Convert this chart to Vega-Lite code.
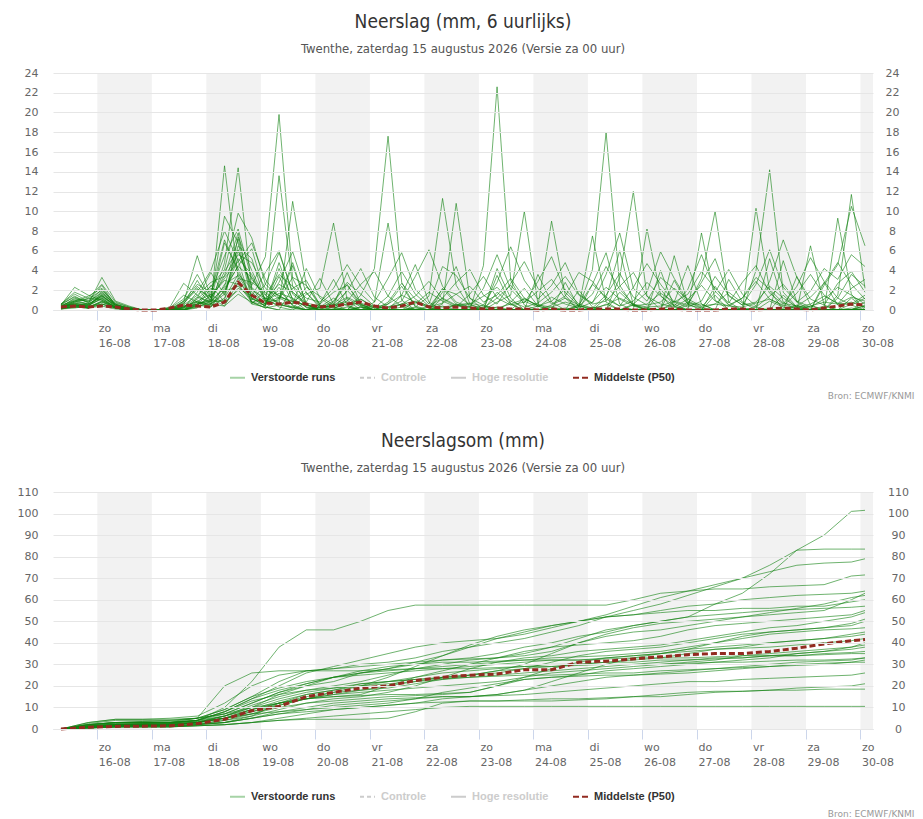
{
  "$schema": "https://vega.github.io/schema/vega-lite/v6.json",
  "background": "white",
  "padding": {"left": 17, "top": 13, "right": 5, "bottom": 0},
  "spacing": 32,
  "datasets": {
    "bands": [
      {"a": 24, "b": 48}, {"a": 72, "b": 96}, {"a": 120, "b": 144}, {"a": 168, "b": 192},
      {"a": 216, "b": 240}, {"a": 264, "b": 288}, {"a": 312, "b": 336}, {"a": 360, "b": 365.52}
    ]
  },
  "resolve": {"scale": {"color": "independent", "strokeDash": "independent"}, "legend": {"color": "independent", "strokeDash": "independent"}},
  "config": {
    "view": {"stroke": null},
    "axis": {"labelFont": "DejaVu Sans", "labelFontSize": 11, "labelColor": "#666666"},
    "title": {
      "font": "Liberation Sans Narrow, DejaVu Sans Condensed, sans-serif",
      "fontSize": 19,
      "fontWeight": "normal",
      "color": "#333333",
      "subtitleFont": "Liberation Sans Narrow, DejaVu Sans Condensed, sans-serif",
      "subtitleFontSize": 13,
      "subtitleColor": "#555555",
      "subtitlePadding": 11,
      "offset": 11,
      "anchor": "middle"
    }
  },
  "vconcat": [
    {
      "width": 820,
      "height": 237,
      "title": {"text": "Neerslag (mm, 6 uurlijks)", "subtitle": "Twenthe, zaterdag 15 augustus 2026 (Versie za 00 uur)"},
      "layer": [
        {
          "data": {"name": "bands"},
          "mark": {"type": "rect", "color": "#f2f2f2"},
          "encoding": {
            "x": {
              "field": "a", "type": "quantitative",
              "scale": {"domain": [4.48, 365.52], "nice": false, "zero": false},
              "axis": {
                "values": [24, 48, 72, 96, 120, 144, 168, 192, 216, 240, 264, 288, 312, 336, 360],
                "labelExpr": "[['za','zo','ma','di','wo','do','vr'][round(datum.value/24)%7], (15+round(datum.value/24))+'-08']",
                "labelAlign": "left", "labelBaseline": "top", "labelPadding": 2, "labelOffset": 1,
                "labelLineHeight": 15, "labelOverlap": false, "labelFlush": false, "labelBound": false,
                "tickSize": 10, "tickColor": "#ccd6eb", "domainColor": "#ccd6eb", "grid": false,
                "title": "Bron: ECMWF/KNMI", "titleX": 861, "titleY": 85, "titleAlign": "right",
                "titleBaseline": "middle", "titleFontSize": 9, "titleColor": "#999999",
                "titleFontWeight": "normal", "titleFont": "DejaVu Sans"
              }
            },
            "x2": {"field": "b"}
          }
        },
        {
          "data": {
            "values": "r,h,v\n1,8,0.3\n1,14,1.2\n1,20,0.8\n1,26,2.1\n1,32,0.5\n1,38,0.2\n1,44,0\n1,50,0\n1,56,0\n1,62,0.6\n1,68,2.4\n1,74,1\n1,80,3.5\n1,86,7.8\n1,92,1.2\n1,98,0.4\n1,104,4.2\n1,110,1.1\n1,116,0.3\n1,122,0\n1,128,0.8\n1,134,2.6\n1,140,0.4\n1,146,0\n1,152,0\n1,158,0.3\n1,164,0\n1,170,0\n1,176,1.2\n1,182,0.5\n1,188,0\n1,194,0\n1,200,0\n1,206,0.8\n1,212,2.2\n1,218,0.4\n1,224,0\n1,230,0\n1,236,0.4\n1,242,0\n1,248,0\n1,254,1.8\n1,260,0.5\n1,266,0\n1,272,0\n1,278,3\n1,284,0.6\n1,290,0.6\n1,296,0\n1,302,0\n1,308,0\n1,314,0.3\n1,320,0\n1,326,1.5\n1,332,0.2\n1,338,0\n1,344,2.8\n1,350,0.5\n1,356,0.8\n1,362,0.3\n2,8,0.5\n2,14,2.3\n2,20,1.5\n2,26,1\n2,32,0.3\n2,38,0\n2,44,0\n2,50,0\n2,56,0.2\n2,62,1.5\n2,68,0.8\n2,74,0.3\n2,80,2\n2,86,4.5\n2,92,6.2\n2,98,1.5\n2,104,0.6\n2,110,0.2\n2,116,0\n2,122,0.3\n2,128,0\n2,134,0\n2,140,1.1\n2,146,0.2\n2,152,0\n2,158,0\n2,164,0.8\n2,170,0.2\n2,176,0\n2,182,0\n2,188,0\n2,194,4.5\n2,200,22.6\n2,206,3\n2,212,0.5\n2,218,0\n2,224,0\n2,230,0.2\n2,236,0\n2,242,0\n2,248,0.6\n2,254,0\n2,260,0\n2,266,0\n2,272,2.1\n2,278,0.4\n2,284,0\n2,290,0\n2,296,1.5\n2,302,0\n2,308,0\n2,314,0\n2,320,0.9\n2,326,0.3\n2,332,0\n2,338,0\n2,344,0\n2,350,0\n2,356,0.2\n2,362,0\n3,8,0.2\n3,14,0.8\n3,20,0.6\n3,26,3.3\n3,32,0.9\n3,38,0.4\n3,44,0\n3,50,0\n3,56,0\n3,62,0\n3,68,1.2\n3,74,3.8\n3,80,1.5\n3,86,6\n3,92,2.5\n3,98,5.4\n3,104,19.8\n3,110,3.2\n3,116,0.5\n3,122,0\n3,128,0\n3,134,0.3\n3,140,0\n3,146,0\n3,152,0\n3,158,0\n3,164,0\n3,170,0.4\n3,176,0\n3,182,0\n3,188,0\n3,194,0\n3,200,0.3\n3,206,0\n3,212,0\n3,218,0\n3,224,0.5\n3,230,1.2\n3,236,0\n3,242,0\n3,248,0\n3,254,0\n3,260,0\n3,266,0.2\n3,272,0\n3,278,0\n3,284,0\n3,290,0\n3,296,0\n3,302,3.1\n3,308,0.8\n3,314,0\n3,320,0\n3,326,0\n3,332,0\n3,338,0\n3,344,0.4\n3,350,0\n3,356,0\n3,362,0\n4,8,0.4\n4,14,0.5\n4,20,0.3\n4,26,1.8\n4,32,0.6\n4,38,0\n4,44,0\n4,50,0\n4,56,0\n4,62,0.8\n4,68,5.5\n4,74,1.2\n4,80,0.4\n4,86,2.8\n4,92,1.6\n4,98,0.3\n4,104,0\n4,110,2.2\n4,116,3\n4,122,0.5\n4,128,0.2\n4,134,0\n4,140,1.5\n4,146,4.2\n4,152,17.6\n4,158,2.8\n4,164,0.3\n4,170,0\n4,176,0\n4,182,0\n4,188,0\n4,194,0.5\n4,200,0\n4,206,0\n4,212,0\n4,218,0\n4,224,0\n4,230,0\n4,236,2\n4,242,0.3\n4,248,0\n4,254,0\n4,260,0\n4,266,0\n4,272,0\n4,278,0.6\n4,284,0\n4,290,0\n4,296,0\n4,302,0\n4,308,0.2\n4,314,0\n4,320,0\n4,326,0\n4,332,0.5\n4,338,0\n4,344,0\n4,350,0\n4,356,0\n4,362,0\n5,8,0.1\n5,14,0.3\n5,20,0.5\n5,26,1.2\n5,32,0.2\n5,38,0\n5,44,0\n5,50,0\n5,56,0\n5,62,0\n5,68,0.4\n5,74,2.2\n5,80,1.8\n5,86,5.2\n5,92,3.6\n5,98,0.8\n5,104,1\n5,110,4.5\n5,116,0.6\n5,122,0\n5,128,0\n5,134,1.2\n5,140,0.3\n5,146,0\n5,152,0\n5,158,0\n5,164,0\n5,170,0\n5,176,0\n5,182,0.5\n5,188,0.2\n5,194,0\n5,200,1.8\n5,206,0.6\n5,212,0\n5,218,0\n5,224,0\n5,230,0\n5,236,0.3\n5,242,4.1\n5,248,18\n5,254,2.5\n5,260,0.4\n5,266,0\n5,272,0\n5,278,0\n5,284,0.8\n5,290,0.2\n5,296,0\n5,302,0\n5,308,0\n5,314,0\n5,320,0\n5,326,0\n5,332,0\n5,338,0.4\n5,344,0\n5,350,0\n5,356,0\n5,362,0\n6,8,0.6\n6,14,1.6\n6,20,0.9\n6,26,2.5\n6,32,0.4\n6,38,0.1\n6,44,0\n6,50,0\n6,56,0.3\n6,62,2.7\n6,68,1.5\n6,74,0.6\n6,80,14.6\n6,86,3.2\n6,92,0.8\n6,98,0.5\n6,104,2.3\n6,110,0.4\n6,116,0\n6,122,0.6\n6,128,3.1\n6,134,0.5\n6,140,0\n6,146,0\n6,152,0\n6,158,0\n6,164,0\n6,170,0\n6,176,0\n6,182,0\n6,188,0\n6,194,0\n6,200,0\n6,206,0\n6,212,0\n6,218,3.6\n6,224,0.8\n6,230,0\n6,236,0\n6,242,0.2\n6,248,0\n6,254,0\n6,260,0.5\n6,266,0.2\n6,272,0\n6,278,0\n6,284,0\n6,290,0\n6,296,2.4\n6,302,0.5\n6,308,0\n6,314,0\n6,320,0\n6,326,0\n6,332,0\n6,338,0\n6,344,0\n6,350,0\n6,356,0\n6,362,0.4\n7,8,0.2\n7,14,0.4\n7,20,0.2\n7,26,0.9\n7,32,0.3\n7,38,0\n7,44,0\n7,50,0\n7,56,0\n7,62,0.3\n7,68,0.9\n7,74,0.5\n7,80,4.8\n7,86,14.4\n7,92,2\n7,98,1.2\n7,104,0.3\n7,110,0\n7,116,0\n7,122,0\n7,128,0\n7,134,0\n7,140,0\n7,146,0\n7,152,0.6\n7,158,2.4\n7,164,0.4\n7,170,0\n7,176,0\n7,182,0\n7,188,0\n7,194,0\n7,200,0\n7,206,0\n7,212,0\n7,218,0\n7,224,0\n7,230,0\n7,236,0\n7,242,0\n7,248,0\n7,254,3.3\n7,260,12\n7,266,1.4\n7,272,0\n7,278,0\n7,284,0\n7,290,0\n7,296,0\n7,302,0\n7,308,0\n7,314,0\n7,320,0\n7,326,0\n7,332,0\n7,338,0\n7,344,0\n7,350,0\n7,356,1.2\n7,362,0.2\n8,8,0.3\n8,14,0.9\n8,20,1.1\n8,26,2\n8,32,0.7\n8,38,0.3\n8,44,0\n8,50,0\n8,56,0\n8,62,0\n8,68,0.2\n8,74,1.6\n8,80,0.6\n8,86,2.2\n8,92,1.4\n8,98,3.8\n8,104,6\n8,110,1.6\n8,116,0.5\n8,122,0\n8,128,0\n8,134,0\n8,140,0\n8,146,0.5\n8,152,0\n8,158,0\n8,164,0.3\n8,170,1.4\n8,176,11.3\n8,182,2.5\n8,188,0.3\n8,194,0\n8,200,0\n8,206,0\n8,212,0\n8,218,0\n8,224,0\n8,230,0\n8,236,0\n8,242,0\n8,248,0\n8,254,0\n8,260,0\n8,266,0\n8,272,0\n8,278,0\n8,284,0\n8,290,0\n8,296,0\n8,302,0\n8,308,0\n8,314,4\n8,320,14.2\n8,326,1.8\n8,332,0.3\n8,338,0\n8,344,0\n8,350,0\n8,356,0\n8,362,0\n9,8,0.2\n9,14,0.3\n9,20,0.2\n9,26,0.6\n9,32,0.2\n9,38,0\n9,44,0\n9,50,0\n9,56,0\n9,62,0\n9,68,0.5\n9,74,0.3\n9,80,2.6\n9,86,3.5\n9,92,1.2\n9,98,0.4\n9,104,13.6\n9,110,2.4\n9,116,0.2\n9,122,0\n9,128,0\n9,134,0\n9,140,0.3\n9,146,0\n9,152,0\n9,158,0\n9,164,0\n9,170,0\n9,176,0.6\n9,182,10.8\n9,188,1.2\n9,194,0\n9,200,0\n9,206,0\n9,212,0\n9,218,0\n9,224,0.3\n9,230,0\n9,236,0\n9,242,0\n9,248,0\n9,254,0\n9,260,0\n9,266,0\n9,272,0\n9,278,0\n9,284,0\n9,290,0\n9,296,0\n9,302,0\n9,308,0\n9,314,0\n9,320,0\n9,326,0\n9,332,0.4\n9,338,0.2\n9,344,0\n9,350,1.5\n9,356,11.7\n9,362,2.2\n10,8,0.4\n10,14,1\n10,20,0.6\n10,26,1.4\n10,32,0.5\n10,38,0.2\n10,44,0\n10,50,0\n10,56,0\n10,62,0.6\n10,68,3\n10,74,0.8\n10,80,1\n10,86,7.4\n10,92,4\n10,98,1\n10,104,0.5\n10,110,11\n10,116,2.5\n10,122,0.4\n10,128,0\n10,134,0\n10,140,0\n10,146,0\n10,152,0\n10,158,0\n10,164,0\n10,170,0\n10,176,0\n10,182,0\n10,188,0\n10,194,0\n10,200,0\n10,206,0\n10,212,1.2\n10,218,0.4\n10,224,0\n10,230,0\n10,236,0\n10,242,0\n10,248,0\n10,254,0\n10,260,0\n10,266,0\n10,272,0\n10,278,0\n10,284,0.5\n10,290,3.2\n10,296,10\n10,302,0.8\n10,308,0\n10,314,10.3\n10,320,2\n10,326,0\n10,332,0\n10,338,0\n10,344,0\n10,350,0\n10,356,0\n10,362,0\n11,8,0.3\n11,14,0.6\n11,20,0.4\n11,26,1.5\n11,32,0.3\n11,38,0\n11,44,0\n11,50,0\n11,56,0\n11,62,0.2\n11,68,1.8\n11,74,4\n11,80,8\n11,86,5\n11,92,0.6\n11,98,2\n11,104,1.5\n11,110,0.6\n11,116,4.2\n11,122,1.2\n11,128,0.3\n11,134,0\n11,140,0\n11,146,0\n11,152,0\n11,158,0.6\n11,164,0\n11,170,0\n11,176,0\n11,182,0\n11,188,0\n11,194,0\n11,200,0.8\n11,206,1.5\n11,212,10\n11,218,0.6\n11,224,0\n11,230,0\n11,236,0\n11,242,0\n11,248,0\n11,254,0\n11,260,0\n11,266,0\n11,272,0\n11,278,0\n11,284,0\n11,290,0\n11,296,0\n11,302,0\n11,308,0\n11,314,0\n11,320,0\n11,326,0\n11,332,0\n11,338,0\n11,344,0\n11,350,0\n11,356,0.6\n11,362,1.5\n12,8,0.2\n12,14,0.5\n12,20,0.3\n12,26,0.8\n12,32,0.2\n12,38,0\n12,44,0\n12,50,0\n12,56,0.1\n12,62,0.4\n12,68,0.6\n12,74,2.5\n12,80,0.8\n12,86,3.2\n12,92,2.8\n12,98,1.8\n12,104,0.6\n12,110,0.2\n12,116,1.6\n12,122,2.2\n12,128,8.8\n12,134,1\n12,140,0\n12,146,0\n12,152,0\n12,158,0\n12,164,0\n12,170,0\n12,176,0\n12,182,0\n12,188,0\n12,194,0\n12,200,0\n12,206,0\n12,212,0\n12,218,0.4\n12,224,9\n12,230,1.5\n12,236,0\n12,242,0\n12,248,0\n12,254,0\n12,260,0\n12,266,0\n12,272,0\n12,278,0\n12,284,0\n12,290,0\n12,296,0\n12,302,0\n12,308,0\n12,314,0\n12,320,0\n12,326,0\n12,332,0\n12,338,0\n12,344,0\n12,350,9.3\n12,356,1.6\n12,362,0\n13,8,0.5\n13,14,1.4\n13,20,0.7\n13,26,1.9\n13,32,0.4\n13,38,0.1\n13,44,0\n13,50,0\n13,56,0\n13,62,0.9\n13,68,2.2\n13,74,0.6\n13,80,1.6\n13,86,6.5\n13,92,5.2\n13,98,0.9\n13,104,2\n13,110,0.5\n13,116,0\n13,122,0.3\n13,128,1.2\n13,134,0.4\n13,140,0\n13,146,0\n13,152,0\n13,158,1.5\n13,164,4.6\n13,170,0.8\n13,176,0\n13,182,0\n13,188,0\n13,194,0\n13,200,0\n13,206,0\n13,212,0\n13,218,0\n13,224,0\n13,230,2.8\n13,236,0.3\n13,242,7.5\n13,248,0.8\n13,254,0\n13,260,0\n13,266,8.2\n13,272,1.5\n13,278,0\n13,284,0\n13,290,0\n13,296,0\n13,302,0\n13,308,0\n13,314,0\n13,320,0\n13,326,0\n13,332,0\n13,338,6.5\n13,344,0.5\n13,350,0\n13,356,0\n13,362,0\n14,8,0.3\n14,14,0.7\n14,20,0.5\n14,26,1.6\n14,32,0.6\n14,38,0.2\n14,44,0\n14,50,0\n14,56,0\n14,62,0.3\n14,68,1.3\n14,74,0.8\n14,80,2.4\n14,86,7.2\n14,92,1.8\n14,98,0.6\n14,104,3.4\n14,110,0.8\n14,116,1.8\n14,122,0.2\n14,128,0.5\n14,134,3.8\n14,140,0.6\n14,146,0\n14,152,0\n14,158,0\n14,164,0.2\n14,170,0\n14,176,2.2\n14,182,0.6\n14,188,0\n14,194,0.3\n14,200,0\n14,206,0\n14,212,0\n14,218,0\n14,224,0\n14,230,0\n14,236,0\n14,242,0\n14,248,0\n14,254,0\n14,260,0.6\n14,266,0\n14,272,4\n14,278,0.3\n14,284,0\n14,290,0\n14,296,0\n14,302,0\n14,308,0\n14,314,0\n14,320,0\n14,326,5\n14,332,0.8\n14,338,0\n14,344,0\n14,350,0\n14,356,0\n14,362,0.5\n15,8,0.1\n15,14,0.2\n15,20,0.4\n15,26,0.6\n15,32,0.2\n15,38,0\n15,44,0\n15,50,0\n15,56,0\n15,62,0\n15,68,0.3\n15,74,0.9\n15,80,6.8\n15,86,4.2\n15,92,0.8\n15,98,0.2\n15,104,1.2\n15,110,4.8\n15,116,0.6\n15,122,0\n15,128,0\n15,134,0\n15,140,0\n15,146,0.8\n15,152,8.8\n15,158,1\n15,164,0\n15,170,0\n15,176,0\n15,182,0\n15,188,0\n15,194,0\n15,200,0\n15,206,0\n15,212,0\n15,218,0\n15,224,0\n15,230,0\n15,236,0\n15,242,2.6\n15,248,5.8\n15,254,0.6\n15,260,0\n15,266,0\n15,272,0\n15,278,0\n15,284,0\n15,290,0\n15,296,0\n15,302,0\n15,308,0\n15,314,0\n15,320,0\n15,326,0\n15,332,0\n15,338,0\n15,344,0\n15,350,0\n15,356,0\n15,362,0\n16,8,0.2\n16,14,0.4\n16,20,0.2\n16,26,0.4\n16,32,0.1\n16,38,0\n16,44,0\n16,50,0\n16,56,0\n16,62,0\n16,68,0.5\n16,74,1.4\n16,80,3\n16,86,2.6\n16,92,0.8\n16,98,1.2\n16,104,0.8\n16,110,0.3\n16,116,0\n16,122,0\n16,128,0\n16,134,0\n16,140,0\n16,146,0\n16,152,0\n16,158,0\n16,164,0\n16,170,0\n16,176,0.4\n16,182,0\n16,188,0\n16,194,0\n16,200,0\n16,206,0\n16,212,0\n16,218,0\n16,224,0\n16,230,0\n16,236,0\n16,242,0\n16,248,0\n16,254,0\n16,260,0\n16,266,0\n16,272,0\n16,278,0\n16,284,0\n16,290,0\n16,296,0\n16,302,0\n16,308,0\n16,314,0\n16,320,0\n16,326,0\n16,332,0\n16,338,0\n16,344,2.5\n16,350,4.6\n16,356,10.5\n16,362,6.5\n17,8,0.4\n17,14,0.6\n17,20,0.2\n17,26,0.8\n17,32,0.3\n17,38,0\n17,44,0\n17,50,0\n17,56,0\n17,62,0\n17,68,0.8\n17,74,0.4\n17,80,1.2\n17,86,3.6\n17,92,2.2\n17,98,0.5\n17,104,4.8\n17,110,1\n17,116,0\n17,122,0\n17,128,0\n17,134,0\n17,140,0.3\n17,146,0\n17,152,0\n17,158,0\n17,164,0\n17,170,0\n17,176,1.8\n17,182,4.4\n17,188,0.6\n17,194,0\n17,200,0\n17,206,0\n17,212,0\n17,218,0\n17,224,0\n17,230,0\n17,236,0\n17,242,0\n17,248,1.2\n17,254,6\n17,260,0.5\n17,266,0\n17,272,0\n17,278,5.5\n17,284,0.6\n17,290,0\n17,296,0\n17,302,0\n17,308,0\n17,314,0\n17,320,5.2\n17,326,0.8\n17,332,0\n17,338,0\n17,344,0\n17,350,0\n17,356,0\n17,362,0\n18,8,0.2\n18,14,0.3\n18,20,0.2\n18,26,0.6\n18,32,0.2\n18,38,0\n18,44,0\n18,50,0\n18,56,0\n18,62,0.2\n18,68,0.6\n18,74,1\n18,80,0.8\n18,86,2\n18,92,0.6\n18,98,0.3\n18,104,0\n18,110,0\n18,116,0.8\n18,122,3.2\n18,128,0.6\n18,134,0\n18,140,0\n18,146,0\n18,152,0\n18,158,0\n18,164,0\n18,170,0\n18,176,0\n18,182,0\n18,188,0\n18,194,0\n18,200,3.5\n18,206,0.6\n18,212,0\n18,218,0\n18,224,0\n18,230,0\n18,236,0.5\n18,242,0\n18,248,0\n18,254,0\n18,260,0\n18,266,0\n18,272,0\n18,278,0\n18,284,0\n18,290,7.8\n18,296,1\n18,302,0\n18,308,0\n18,314,0\n18,320,0\n18,326,0\n18,332,3.4\n18,338,0.5\n18,344,0\n18,350,0\n18,356,0\n18,362,0\n19,8,0.3\n19,14,0.8\n19,20,1.2\n19,26,1\n19,32,0.3\n19,38,0\n19,44,0\n19,50,0\n19,56,0\n19,62,0\n19,68,0.4\n19,74,0.6\n19,80,0.4\n19,86,1.6\n19,92,0.8\n19,98,0.2\n19,104,0.5\n19,110,0.3\n19,116,0\n19,122,0\n19,128,0\n19,134,0\n19,140,0\n19,146,0\n19,152,0\n19,158,0\n19,164,0\n19,170,0\n19,176,0\n19,182,0\n19,188,0\n19,194,0\n19,200,0\n19,206,0\n19,212,0\n19,218,0\n19,224,0\n19,230,0\n19,236,0\n19,242,0\n19,248,0\n19,254,0\n19,260,0\n19,266,0\n19,272,0\n19,278,0\n19,284,0\n19,290,0\n19,296,0\n19,302,0\n19,308,0\n19,314,0\n19,320,0\n19,326,0\n19,332,0\n19,338,0\n19,344,0\n19,350,1.2\n19,356,0.5\n19,362,0\n20,8,0.6\n20,14,1.8\n20,20,1.2\n20,26,2.6\n20,32,0.8\n20,38,0.3\n20,44,0\n20,50,0\n20,56,0.2\n20,62,1.1\n20,68,3.6\n20,74,1.2\n20,80,9.5\n20,86,6.8\n20,92,1\n20,98,2.6\n20,104,5.8\n20,110,1.8\n20,116,0.6\n20,122,0\n20,128,0\n20,134,2\n20,140,0.5\n20,146,0\n20,152,0\n20,158,0\n20,164,0\n20,170,0\n20,176,0\n20,182,0.6\n20,188,0.3\n20,194,0\n20,200,4.2\n20,206,1.2\n20,212,0\n20,218,0\n20,224,0\n20,230,0\n20,236,0\n20,242,0\n20,248,0\n20,254,0\n20,260,0\n20,266,0\n20,272,0\n20,278,0.8\n20,284,4.5\n20,290,0.6\n20,296,0\n20,302,0\n20,308,0\n20,314,0\n20,320,0\n20,326,0\n20,332,0\n20,338,0\n20,344,0\n20,350,0\n20,356,0\n20,362,0.8\n21,8,0.4\n21,14,1.1\n21,20,0.9\n21,26,1.7\n21,32,0.5\n21,38,0.2\n21,44,0\n21,50,0\n21,56,0.1\n21,62,0.9\n21,68,2.6\n21,74,1.8\n21,80,5.5\n21,86,8.2\n21,92,3.1\n21,98,1.5\n21,104,3.6\n21,110,2.4\n21,116,1.2\n21,122,0.8\n21,128,2.2\n21,134,4.6\n21,140,2.4\n21,146,0.8\n21,152,3.2\n21,158,5.8\n21,164,2.1\n21,170,0.6\n21,176,4.4\n21,182,3.5\n21,188,1.2\n21,194,0.5\n21,200,2.8\n21,206,6.4\n21,212,3\n21,218,1.1\n21,224,2.5\n21,230,4.8\n21,236,1.6\n21,242,0.7\n21,248,3.6\n21,254,7.8\n21,260,2.2\n21,266,0.9\n21,272,3.3\n21,278,2.1\n21,284,0.6\n21,290,2.8\n21,296,5.2\n21,302,1.4\n21,308,0.5\n21,314,2.6\n21,320,6.1\n21,326,2.3\n21,332,0.8\n21,338,1.9\n21,344,4.2\n21,350,3.1\n21,356,5.6\n21,362,4.4\n22,8,0.2\n22,14,0.6\n22,20,0.5\n22,26,1.1\n22,32,0.3\n22,38,0\n22,44,0\n22,50,0\n22,56,0\n22,62,0.5\n22,68,1.5\n22,74,2.8\n22,80,3.4\n22,86,5.6\n22,92,4.8\n22,98,2.2\n22,104,1.1\n22,110,3.3\n22,116,2.5\n22,122,0.6\n22,128,1.8\n22,134,2.5\n22,140,0.7\n22,146,0.2\n22,152,1.4\n22,158,3.9\n22,164,1.6\n22,170,0.4\n22,176,1.2\n22,182,2.8\n22,188,4.1\n22,194,1.5\n22,200,0.6\n22,206,2.7\n22,212,4.9\n22,218,2.2\n22,224,0.6\n22,230,1.4\n22,236,3.8\n22,242,2.9\n22,248,1.1\n22,254,0.4\n22,260,2.3\n22,266,4.7\n22,272,2.6\n22,278,0.8\n22,284,1.6\n22,290,3.9\n22,296,2.2\n22,302,0.7\n22,308,2.8\n22,314,4.5\n22,320,1.7\n22,326,0.6\n22,332,2.4\n22,338,5.3\n22,344,2.9\n22,350,1.2\n22,356,3.6\n22,362,2.4\n23,8,0.3\n23,14,0.9\n23,20,1.4\n23,26,2.2\n23,32,0.6\n23,38,0.1\n23,44,0\n23,50,0\n23,56,0\n23,62,0.3\n23,68,0.9\n23,74,1.6\n23,80,7.1\n23,86,3.8\n23,92,1.4\n23,98,0.6\n23,104,2.8\n23,110,5.9\n23,116,1.7\n23,122,0.4\n23,128,0.6\n23,134,1.9\n23,140,4.2\n23,146,1.3\n23,152,0.3\n23,158,0.9\n23,164,3.4\n23,170,6.1\n23,176,2.4\n23,182,0.8\n23,188,0.3\n23,194,2.2\n23,200,5.6\n23,206,2.1\n23,212,0.7\n23,218,2.9\n23,224,5.4\n23,230,1.8\n23,236,0.4\n23,242,1.6\n23,248,4.4\n23,254,2.1\n23,260,0.6\n23,266,1.8\n23,272,5.9\n23,278,3.2\n23,284,0.9\n23,290,0.3\n23,296,1.8\n23,302,4.1\n23,308,1.6\n23,314,0.4\n23,320,2.9\n23,326,7.1\n23,332,3.3\n23,338,1.1\n23,344,0.5\n23,350,2.7\n23,356,3.9\n23,362,1.8\n24,8,0.5\n24,14,0.9\n24,20,0.6\n24,26,1.3\n24,32,0.4\n24,38,0.1\n24,44,0\n24,50,0\n24,56,0\n24,62,0.4\n24,68,0.8\n24,74,0.6\n24,80,1.9\n24,86,2.4\n24,92,1.1\n24,98,0.7\n24,104,1.3\n24,110,0.9\n24,116,0.5\n24,122,0.3\n24,128,0.4\n24,134,0.8\n24,140,0.5\n24,146,0.2\n24,152,0.3\n24,158,0.6\n24,164,0.9\n24,170,0.4\n24,176,0.3\n24,182,0.5\n24,188,0.7\n24,194,0.4\n24,200,0.2\n24,206,0.6\n24,212,1.1\n24,218,0.5\n24,224,0.3\n24,230,0.8\n24,236,0.4\n24,242,0.2\n24,248,0.5\n24,254,1.2\n24,260,0.6\n24,266,0.3\n24,272,0.4\n24,278,0.9\n24,284,0.5\n24,290,0.2\n24,296,0.6\n24,302,0.4\n24,308,0.3\n24,314,0.7\n24,320,1.1\n24,326,0.5\n24,332,0.2\n24,338,0.4\n24,344,0.8\n24,350,0.6\n24,356,1.3\n24,362,0.9\n25,8,0.2\n25,14,0.5\n25,20,0.3\n25,26,0.9\n25,32,0.2\n25,38,0\n25,44,0\n25,50,0\n25,56,0\n25,62,0.1\n25,68,0.6\n25,74,1.1\n25,80,3.9\n25,86,6.1\n25,92,2.3\n25,98,0.9\n25,104,1.7\n25,110,1.2\n25,116,0.3\n25,122,0.1\n25,128,0.5\n25,134,1.3\n25,140,0.6\n25,146,0\n25,152,0.8\n25,158,2.7\n25,164,1.1\n25,170,0.3\n25,176,0.7\n25,182,1.6\n25,188,2.4\n25,194,0.8\n25,200,1.5\n25,206,3.2\n25,212,1.2\n25,218,0.4\n25,224,0.9\n25,230,2.1\n25,236,0.6\n25,242,0.2\n25,248,1.5\n25,254,3.7\n25,260,1.3\n25,266,0.5\n25,272,0.8\n25,278,2.2\n25,284,1.1\n25,290,0.4\n25,296,0.6\n25,302,1.8\n25,308,0.7\n25,314,0.3\n25,320,1.4\n25,326,2.6\n25,332,0.9\n25,338,0.3\n25,344,1.1\n25,350,2.3\n25,356,1.5\n25,362,0.6\n26,8,0.6\n26,14,1.3\n26,20,0.8\n26,26,1.5\n26,32,0.4\n26,38,0.2\n26,44,0\n26,50,0\n26,56,0.1\n26,62,0.7\n26,68,2.1\n26,74,1.3\n26,80,3.2\n26,86,4.9\n26,92,6.8\n26,98,3.1\n26,104,1.2\n26,110,0.6\n26,116,2.3\n26,122,1.4\n26,128,0.5\n26,134,0.9\n26,140,2.6\n26,146,3.9\n26,152,1.4\n26,158,0.4\n26,164,0.6\n26,170,1.8\n26,176,0.9\n26,182,0.3\n26,188,1.6\n26,194,3.4\n26,200,1.2\n26,206,0.5\n26,212,0.8\n26,218,1.9\n26,224,3.1\n26,230,1.2\n26,236,0.5\n26,242,2.6\n26,248,1.3\n26,254,0.4\n26,260,0.9\n26,266,2.8\n26,272,1.4\n26,278,0.4\n26,284,2.1\n26,290,5.6\n26,296,1.9\n26,302,0.5\n26,308,1.2\n26,314,2.9\n26,320,1.1\n26,326,0.4\n26,332,1.7\n26,338,3.6\n26,344,1.5\n26,350,0.6\n26,356,2.2\n26,362,3.1\n27,8,0.3\n27,14,0.7\n27,20,0.4\n27,26,1.2\n27,32,0.3\n27,38,0\n27,44,0\n27,50,0\n27,56,0\n27,62,0.2\n27,68,1.1\n27,74,2.4\n27,80,4.1\n27,86,9.8\n27,92,7.3\n27,98,2.6\n27,104,1.4\n27,110,0.8\n27,116,0.5\n27,122,0.2\n27,128,0.9\n27,134,2.8\n27,140,1.6\n27,146,0.4\n27,152,0.2\n27,158,0.6\n27,164,1.4\n27,170,2.9\n27,176,1.1\n27,182,0.4\n27,188,0.6\n27,194,1.4\n27,200,2.3\n27,206,0.9\n27,212,0.3\n27,218,0.7\n27,224,1.8\n27,230,3.4\n27,236,1.5\n27,242,0.6\n27,248,0.9\n27,254,2.4\n27,260,3.8\n27,266,1.4\n27,272,0.6\n27,278,0.3\n27,284,1.1\n27,290,2.5\n27,296,0.9\n27,302,0.4\n27,308,1.2\n27,314,3.3\n27,320,2.1\n27,326,0.7\n27,332,0.4\n27,338,1.3\n27,344,2.7\n27,350,4.8\n27,356,2.6\n27,362,1.1\n28,8,0.1\n28,14,0.4\n28,20,0.6\n28,26,1.4\n28,32,0.5\n28,38,0.1\n28,44,0\n28,50,0\n28,56,0\n28,62,0\n28,68,0.6\n28,74,0.9\n28,80,2.2\n28,86,4.4\n28,92,3.3\n28,98,1.1\n28,104,2.6\n28,110,1.8\n28,116,0.7\n28,122,0.4\n28,128,0.2\n28,134,0.6\n28,140,1.1\n28,146,0.3\n28,152,0.6\n28,158,1.5\n28,164,0.8\n28,170,0.3\n28,176,2.1\n28,182,1.6\n28,188,0.5\n28,194,0.2\n28,200,1.2\n28,206,2.5\n28,212,0.9\n28,218,0.3\n28,224,1.3\n28,230,0.6\n28,236,0.2\n28,242,0.8\n28,248,2.3\n28,254,1.1\n28,260,0.4\n28,266,0.6\n28,272,1.7\n28,278,0.8\n28,284,0.3\n28,290,0.9\n28,296,3.4\n28,302,1.5\n28,308,0.5\n28,314,0.8\n28,320,2.4\n28,326,1.2\n28,332,0.3\n28,338,0.6\n28,344,1.4\n28,350,0.7\n28,356,0.5\n28,362,1.2",
            "format": {"type": "csv", "parse": {"r": "number", "h": "number", "v": "number"}}
          },
          "mark": {"type": "line", "color": "#0f800f", "opacity": 0.6, "strokeWidth": 1},
          "encoding": {
            "x": {"field": "h", "type": "quantitative"},
            "y": {
              "field": "v", "type": "quantitative",
              "scale": {"domain": [0, 24], "nice": false},
              "axis": {"values": [0, 2, 4, 6, 8, 10, 12, 14, 16, 18, 20, 22, 24], "orient": "left", "grid": true, "gridColor": "#e6e6e6", "domain": false, "ticks": false, "labelPadding": 15, "title": null, "zindex": 1}
            },
            "detail": {"field": "r", "type": "nominal"}
          }
        },
        {
          "data": {
            "values": "h,v\n8,0.3\n14,0.4\n20,0.3\n26,0.4\n32,0.3\n38,0.1\n44,0\n50,0\n56,0.2\n62,0.5\n68,0.4\n74,0.3\n80,0.8\n86,2.8\n92,1.5\n98,0.7\n104,0.6\n110,0.8\n116,0.6\n122,0.3\n128,0.4\n134,0.6\n140,0.8\n146,0.4\n152,0.2\n158,0.4\n164,0.8\n170,0.3\n176,0.2\n182,0.3\n188,0.2\n194,0.1\n200,0.2\n206,0.1\n212,0.1\n218,0\n224,0.1\n230,0\n236,0\n242,0.1\n248,0.1\n254,0.1\n260,0\n266,0\n272,0.1\n278,0.1\n284,0\n290,0\n296,0\n302,0.1\n308,0.1\n314,0\n320,0.1\n326,0.2\n332,0.1\n338,0\n344,0.2\n350,0.4\n356,0.6\n362,0.5",
            "format": {"type": "csv", "parse": {"h": "number", "v": "number"}}
          },
          "mark": {"type": "line", "strokeWidth": 3},
          "encoding": {
            "x": {"field": "h", "type": "quantitative"},
            "y": {
              "field": "v", "type": "quantitative",
              "axis": {"values": [0, 2, 4, 6, 8, 10, 12, 14, 16, 18, 20, 22, 24], "orient": "right", "grid": false, "domain": false, "ticks": false, "labelPadding": 19, "labelAlign": "center", "title": null}
            },
            "color": {
              "datum": "Middelste (P50)", "type": "nominal",
              "scale": {"domain": ["Verstoorde runs", "Controle", "Hoge resolutie", "Middelste (P50)"], "range": ["#a6d3a6", "#cccccc", "#cccccc", "#922b21"]},
              "legend": {"orient": "none", "legendX": 176, "legendY": 296, "direction": "horizontal", "columns": 4, "title": null, "symbolType": "stroke", "symbolSize": 225, "symbolStrokeWidth": 2, "labelFont": "Liberation Sans", "labelFontSize": 11, "labelFontWeight": "bold", "labelColor": {"expr": "indexof(['Controle','Hoge resolutie'], datum.label) >= 0 ? '#cccccc' : '#333333'"}, "labelOffset": 5, "columnPadding": 20}
            },
            "strokeDash": {
              "datum": "Middelste (P50)", "type": "nominal",
              "scale": {"domain": ["Verstoorde runs", "Controle", "Hoge resolutie", "Middelste (P50)"], "range": [[1, 0], [4, 3], [1, 0], [6, 3]]},
              "legend": {"orient": "none", "legendX": 176, "legendY": 296, "direction": "horizontal", "columns": 4, "title": null, "symbolType": "stroke", "symbolSize": 225, "symbolStrokeWidth": 2, "labelFont": "Liberation Sans", "labelFontSize": 11, "labelFontWeight": "bold", "labelColor": {"expr": "indexof(['Controle','Hoge resolutie'], datum.label) >= 0 ? '#cccccc' : '#333333'"}, "labelOffset": 5, "columnPadding": 20}
            }
          }
        }
      ],
      "resolve": {"axis": {"y": "independent"}}
    },
    {
      "width": 820,
      "height": 237,
      "title": {"text": "Neerslagsom (mm)", "subtitle": "Twenthe, zaterdag 15 augustus 2026 (Versie za 00 uur)"},
      "layer": [
        {
          "data": {"name": "bands"},
          "mark": {"type": "rect", "color": "#f2f2f2"},
          "encoding": {
            "x": {
              "field": "a", "type": "quantitative",
              "scale": {"domain": [4.48, 365.52], "nice": false, "zero": false},
              "axis": {
                "values": [24, 48, 72, 96, 120, 144, 168, 192, 216, 240, 264, 288, 312, 336, 360],
                "labelExpr": "[['za','zo','ma','di','wo','do','vr'][round(datum.value/24)%7], (15+round(datum.value/24))+'-08']",
                "labelAlign": "left", "labelBaseline": "top", "labelPadding": 2, "labelOffset": 1,
                "labelLineHeight": 15, "labelOverlap": false, "labelFlush": false, "labelBound": false,
                "tickSize": 10, "tickColor": "#ccd6eb", "domainColor": "#ccd6eb", "grid": false,
                "title": "Bron: ECMWF/KNMI", "titleX": 861, "titleY": 84, "titleAlign": "right",
                "titleBaseline": "middle", "titleFontSize": 9, "titleColor": "#999999",
                "titleFontWeight": "normal", "titleFont": "DejaVu Sans"
              }
            },
            "x2": {"field": "b"}
          }
        },
        {
          "data": {
            "values": "r,h,v\n1,8,0\n1,20,2\n1,32,3\n1,44,3\n1,56,3\n1,68,4\n1,80,6\n1,92,10\n1,104,16\n1,116,20\n1,128,22\n1,140,26\n1,152,28\n1,164,30\n1,176,32\n1,188,33\n1,200,35\n1,212,38\n1,224,40\n1,236,43\n1,248,45\n1,260,48\n1,272,50\n1,284,52\n1,296,58\n1,308,63\n1,320,72\n1,332,83\n1,344,90\n1,356,101\n1,362,101.5\n2,8,0\n2,20,1.5\n2,32,2.5\n2,44,3\n2,56,3\n2,68,4\n2,80,8\n2,92,14\n2,104,20\n2,116,26\n2,128,29\n2,140,32\n2,152,35\n2,164,38\n2,176,40\n2,188,41\n2,200,42\n2,212,44\n2,224,47\n2,236,50\n2,248,53\n2,260,57\n2,272,61\n2,284,64\n2,296,67\n2,308,70\n2,320,76\n2,332,83\n2,344,83.5\n2,356,83.5\n2,362,83.5\n3,8,0\n3,20,2\n3,32,3\n3,44,3.5\n3,56,3.5\n3,68,5\n3,80,9\n3,92,15\n3,104,22\n3,116,27\n3,128,28\n3,140,30\n3,152,31\n3,164,33\n3,176,36\n3,188,38\n3,200,40\n3,212,42\n3,224,45\n3,236,48\n3,248,52\n3,260,55\n3,272,58\n3,284,62\n3,296,66\n3,308,70\n3,320,73\n3,332,76\n3,344,77\n3,356,77.5\n3,362,79\n4,8,0\n4,20,2\n4,32,3\n4,44,3\n4,56,3\n4,68,4\n4,80,10\n4,92,22\n4,104,38\n4,116,46\n4,128,46\n4,140,50\n4,152,55\n4,164,57.5\n4,176,57.5\n4,188,57.5\n4,200,57.5\n4,212,57.5\n4,224,57.5\n4,236,57.5\n4,248,57.5\n4,260,60\n4,272,63\n4,284,64\n4,296,65\n4,308,65\n4,320,66\n4,332,66.5\n4,344,67\n4,356,71\n4,362,71.5\n5,8,0\n5,20,1\n5,32,2\n5,44,2.5\n5,56,3\n5,68,4\n5,80,7\n5,92,12\n5,104,17\n5,116,20\n5,128,24\n5,140,26\n5,152,28\n5,164,31\n5,176,34\n5,188,38\n5,200,42\n5,212,45\n5,224,48\n5,236,50\n5,248,52\n5,260,53\n5,272,55\n5,284,57\n5,296,58\n5,308,60\n5,320,61\n5,332,62\n5,344,62.5\n5,356,63\n5,362,64\n6,8,0\n6,20,1.5\n6,32,2\n6,44,2.5\n6,56,2.5\n6,68,3\n6,80,5\n6,92,9\n6,104,13\n6,116,16\n6,128,18\n6,140,21\n6,152,22\n6,164,23\n6,176,24\n6,188,25\n6,200,27\n6,212,30\n6,224,35\n6,236,40\n6,248,43\n6,260,45\n6,272,46\n6,284,48\n6,296,50\n6,308,52\n6,320,53\n6,332,54\n6,344,55\n6,356,60\n6,362,63\n7,8,0\n7,20,0.5\n7,32,1\n7,44,1.5\n7,56,1.5\n7,68,3\n7,80,5\n7,92,8\n7,104,11\n7,116,14\n7,128,17\n7,140,20\n7,152,24\n7,164,29\n7,176,34\n7,188,39\n7,200,43\n7,212,46\n7,224,48\n7,236,50\n7,248,52\n7,260,53\n7,272,54\n7,284,55\n7,296,55\n7,308,56\n7,320,56\n7,332,57\n7,344,57\n7,356,59\n7,362,60\n8,8,0\n8,20,3\n8,32,4.5\n8,44,4.5\n8,56,5\n8,68,6\n8,80,12\n8,92,20\n8,104,25\n8,116,27\n8,128,28\n8,140,29\n8,152,30\n8,164,31\n8,176,32\n8,188,32.5\n8,200,33\n8,212,35\n8,224,38\n8,236,42\n8,248,46\n8,260,48\n8,272,50\n8,284,52\n8,296,53\n8,308,54\n8,320,55\n8,332,55.5\n8,344,56\n8,356,56.5\n8,362,57\n9,8,0\n9,20,1\n9,32,1.5\n9,44,2\n9,56,2\n9,68,2.5\n9,80,4\n9,92,6\n9,104,9\n9,116,12\n9,128,14\n9,140,15\n9,152,17\n9,164,20\n9,176,24\n9,188,28\n9,200,31\n9,212,33\n9,224,34\n9,236,36\n9,248,37\n9,260,38\n9,272,39\n9,284,41\n9,296,43\n9,308,45\n9,320,47\n9,332,48\n9,344,50\n9,356,52\n9,362,54\n10,8,0\n10,20,1.5\n10,32,2\n10,44,2\n10,56,2\n10,68,3\n10,80,5\n10,92,7\n10,104,10\n10,116,12\n10,128,13\n10,140,14\n10,152,15\n10,164,15.5\n10,176,16\n10,188,17\n10,200,20\n10,212,24\n10,224,28\n10,236,31\n10,248,33\n10,260,34\n10,272,35\n10,284,37\n10,296,40\n10,308,43\n10,320,45\n10,332,46\n10,344,47\n10,356,49\n10,362,51\n11,8,0\n11,20,1\n11,32,2\n11,44,2\n11,56,2.5\n11,68,4\n11,80,8\n11,92,14\n11,104,18\n11,116,21\n11,128,24\n11,140,26\n11,152,27\n11,164,28\n11,176,29\n11,188,30\n11,200,31\n11,212,32\n11,224,33\n11,236,33.5\n11,248,34\n11,260,35\n11,272,36\n11,284,38\n11,296,40\n11,308,42\n11,320,44\n11,332,45\n11,344,46\n11,356,46.5\n11,362,47\n12,8,0\n12,20,0.5\n12,32,1\n12,44,1\n12,56,1\n12,68,2\n12,80,3\n12,92,5\n12,104,8\n12,116,10\n12,128,12\n12,140,13\n12,152,14\n12,164,14.5\n12,176,15\n12,188,15\n12,200,16\n12,212,18\n12,224,22\n12,236,26\n12,248,30\n12,260,33\n12,272,35\n12,284,37\n12,296,38\n12,308,39\n12,320,40\n12,332,41\n12,344,42\n12,356,44\n12,362,45\n13,8,0\n13,20,2\n13,32,3\n13,44,3.5\n13,56,4\n13,68,5\n13,80,9\n13,92,15\n13,104,19\n13,116,22\n13,128,24\n13,140,25\n13,152,26\n13,164,27\n13,176,28\n13,188,29\n13,200,30\n13,212,31\n13,224,32\n13,236,32\n13,248,33\n13,260,34\n13,272,35\n13,284,36\n13,296,37\n13,308,37.5\n13,320,38\n13,332,39\n13,344,40\n13,356,41\n13,362,42\n14,8,0\n14,20,1\n14,32,1.5\n14,44,1.5\n14,56,2\n14,68,3\n14,80,5\n14,92,7\n14,104,8\n14,116,9\n14,128,10\n14,140,11\n14,152,12\n14,164,14\n14,176,17\n14,188,19\n14,200,21\n14,212,23\n14,224,24\n14,236,25\n14,248,27\n14,260,28\n14,272,29\n14,284,30\n14,296,31\n14,308,32\n14,320,33\n14,332,35\n14,344,36\n14,356,38\n14,362,40\n15,8,0\n15,20,1\n15,32,1.5\n15,44,2\n15,56,2\n15,68,2.5\n15,80,3\n15,92,6\n15,104,12\n15,116,16\n15,128,18\n15,140,20\n15,152,21\n15,164,22\n15,176,23\n15,188,24\n15,200,25\n15,212,26\n15,224,27\n15,236,28\n15,248,29\n15,260,30\n15,272,31\n15,284,32\n15,296,32.5\n15,308,33\n15,320,34\n15,332,35\n15,344,36\n15,356,37\n15,362,38\n16,8,0\n16,20,1\n16,32,2\n16,44,2\n16,56,2\n16,68,3\n16,80,6\n16,92,10\n16,104,12\n16,116,14\n16,128,15\n16,140,16\n16,152,20\n16,164,24\n16,176,26\n16,188,27\n16,200,28\n16,212,29\n16,224,30\n16,236,30\n16,248,31\n16,260,31\n16,272,32\n16,284,32\n16,296,33\n16,308,33\n16,320,34\n16,332,34\n16,344,35\n16,356,35.5\n16,362,36\n17,8,0\n17,20,3\n17,32,4.5\n17,44,4.5\n17,56,4.5\n17,68,5\n17,80,7\n17,92,12\n17,104,17\n17,116,21\n17,128,24\n17,140,27\n17,152,29\n17,164,30\n17,176,31\n17,188,31\n17,200,31.5\n17,212,32\n17,224,32\n17,236,32\n17,248,32.5\n17,260,33\n17,272,33\n17,284,33\n17,296,33.5\n17,308,34\n17,320,34\n17,332,34\n17,344,34.5\n17,356,35\n17,362,35\n18,8,0\n18,20,0.5\n18,32,1\n18,44,1\n18,56,1\n18,68,1.5\n18,80,2\n18,92,3\n18,104,5\n18,116,7\n18,128,9\n18,140,10\n18,152,11\n18,164,12\n18,176,14\n18,188,15\n18,200,16\n18,212,18\n18,224,20\n18,236,22\n18,248,24\n18,260,25\n18,272,26\n18,284,27\n18,296,28\n18,308,29\n18,320,30\n18,332,31\n18,344,31.5\n18,356,32\n18,362,33\n19,8,0\n19,20,1.5\n19,32,2\n19,44,2.5\n19,56,2.5\n19,68,3\n19,80,6\n19,92,9\n19,104,12\n19,116,14\n19,128,15\n19,140,15.5\n19,152,16\n19,164,16\n19,176,16.5\n19,188,17\n19,200,20\n19,212,23\n19,224,24\n19,236,24.5\n19,248,25\n19,260,25\n19,272,25.5\n19,284,26\n19,296,27\n19,308,28\n19,320,29\n19,332,30\n19,344,30.5\n19,356,31\n19,362,31\n20,8,0\n20,20,1\n20,32,1.5\n20,44,1.5\n20,56,1.5\n20,68,2\n20,80,3\n20,92,5\n20,104,7\n20,116,9\n20,128,11\n20,140,12\n20,152,13\n20,164,14\n20,176,15\n20,188,15\n20,200,15.5\n20,212,16\n20,224,17\n20,236,18\n20,248,19\n20,260,20\n20,272,21\n20,284,22\n20,296,22\n20,308,23\n20,320,23.5\n20,332,24\n20,344,24.5\n20,356,25\n20,362,26\n21,8,0\n21,20,2\n21,32,3\n21,44,3\n21,56,3\n21,68,5\n21,80,20\n21,92,26\n21,104,27\n21,116,27\n21,128,27\n21,140,27\n21,152,27.5\n21,164,28\n21,176,28\n21,188,28\n21,200,28.5\n21,212,29\n21,224,29\n21,236,29.5\n21,248,30\n21,260,30\n21,272,30\n21,284,30.5\n21,296,31\n21,308,31\n21,320,31.5\n21,332,32\n21,344,32\n21,356,32.5\n21,362,33\n22,8,0\n22,20,1\n22,32,1.5\n22,44,1.5\n22,56,1.5\n22,68,2\n22,80,3\n22,92,5\n22,104,7\n22,116,8\n22,128,9\n22,140,10\n22,152,11\n22,164,12\n22,176,12.5\n22,188,13\n22,200,13\n22,212,13.5\n22,224,14\n22,236,14\n22,248,14.5\n22,260,15\n22,272,15\n22,284,16\n22,296,17\n22,308,17.5\n22,320,18\n22,332,19\n22,344,19.5\n22,356,20\n22,362,21\n23,8,0\n23,20,0.5\n23,32,1\n23,44,1\n23,56,1\n23,68,1.5\n23,80,2\n23,92,3\n23,104,4\n23,116,4.5\n23,128,4.5\n23,140,4.5\n23,152,5\n23,164,8\n23,176,12\n23,188,13\n23,200,13\n23,212,13\n23,224,13\n23,236,13.5\n23,248,14\n23,260,15\n23,272,16\n23,284,17\n23,296,17.5\n23,308,17.5\n23,320,18\n23,332,18\n23,344,18.5\n23,356,18.5\n23,362,18.5\n24,8,0\n24,20,0.5\n24,32,1\n24,44,1\n24,56,1\n24,68,1.5\n24,80,2\n24,92,3\n24,104,4\n24,116,5\n24,128,6\n24,140,7\n24,152,8\n24,164,9\n24,176,10\n24,188,10.5\n24,200,10.5\n24,212,10.5\n24,224,10.5\n24,236,10.5\n24,248,10.5\n24,260,10.5\n24,272,10.5\n24,284,10.5\n24,296,10.5\n24,308,10.5\n24,320,10.5\n24,332,10.5\n24,344,10.5\n24,356,10.5\n24,362,10.5\n25,8,0\n25,20,1\n25,32,2\n25,44,2\n25,56,2.5\n25,68,3.5\n25,80,6\n25,92,11\n25,104,15\n25,116,18\n25,128,20\n25,140,22\n25,152,25\n25,164,28\n25,176,30\n25,188,32\n25,200,33\n25,212,34\n25,224,36\n25,236,40\n25,248,44\n25,260,47\n25,272,49\n25,284,50\n25,296,51\n25,308,52\n25,320,54\n25,332,56\n25,344,58\n25,356,61\n25,362,62\n26,8,0\n26,20,2\n26,32,3\n26,44,3\n26,56,3\n26,68,4\n26,80,8\n26,92,13\n26,104,16\n26,116,18\n26,128,19\n26,140,20\n26,152,22\n26,164,24\n26,176,27\n26,188,30\n26,200,33\n26,212,36\n26,224,38\n26,236,39\n26,248,40\n26,260,41\n26,272,43\n26,284,46\n26,296,48\n26,308,49\n26,320,50\n26,332,51\n26,344,52\n26,356,53\n26,362,55\n27,8,0\n27,20,1.5\n27,32,2.5\n27,44,2.5\n27,56,3\n27,68,3.5\n27,80,5\n27,92,8\n27,104,12\n27,116,15\n27,128,17\n27,140,18\n27,152,19\n27,164,21\n27,176,23\n27,188,25\n27,200,26\n27,212,28\n27,224,31\n27,236,34\n27,248,36\n27,260,37\n27,272,38\n27,284,40\n27,296,42\n27,308,44\n27,320,45\n27,332,46\n27,344,47\n27,356,48\n27,362,50\n28,8,0\n28,20,0.5\n28,32,1\n28,44,1.5\n28,56,1.5\n28,68,2\n28,80,4\n28,92,7\n28,104,11\n28,116,14\n28,128,16\n28,140,18\n28,152,20\n28,164,22\n28,176,24\n28,188,25\n28,200,27\n28,212,28\n28,224,29\n28,236,30\n28,248,31\n28,260,32\n28,272,33\n28,284,35\n28,296,37\n28,308,38\n28,320,40\n28,332,41\n28,344,42\n28,356,43\n28,362,44\n29,8,0\n29,20,1\n29,32,1.5\n29,44,1.5\n29,56,2\n29,68,3\n29,80,5\n29,92,9\n29,104,12\n29,116,14\n29,128,16\n29,140,17\n29,152,18\n29,164,19\n29,176,20\n29,188,21\n29,200,22\n29,212,24\n29,224,26\n29,236,27\n29,248,28\n29,260,29\n29,272,30\n29,284,31\n29,296,32\n29,308,34\n29,320,35\n29,332,36\n29,344,37\n29,356,38\n29,362,39\n30,8,0\n30,20,2.5\n30,32,4\n30,44,4\n30,56,4\n30,68,5\n30,80,7\n30,92,10\n30,104,14\n30,116,17\n30,128,19\n30,140,21\n30,152,22\n30,164,23\n30,176,23.5\n30,188,24\n30,200,24.5\n30,212,25\n30,224,25\n30,236,25.5\n30,248,26\n30,260,26\n30,272,27\n30,284,27.5\n30,296,28\n30,308,28.5\n30,320,29\n30,332,29.5\n30,344,30\n30,356,31\n30,362,32",
            "format": {"type": "csv", "parse": {"r": "number", "h": "number", "v": "number"}}
          },
          "mark": {"type": "line", "color": "#0f800f", "opacity": 0.6, "strokeWidth": 1},
          "encoding": {
            "x": {"field": "h", "type": "quantitative"},
            "y": {
              "field": "v", "type": "quantitative",
              "scale": {"domain": [0, 110], "nice": false},
              "axis": {"values": [0, 10, 20, 30, 40, 50, 60, 70, 80, 90, 100, 110], "orient": "left", "grid": true, "gridColor": "#e6e6e6", "domain": false, "ticks": false, "labelPadding": 15, "title": null, "zindex": 1}
            },
            "detail": {"field": "r", "type": "nominal"}
          }
        },
        {
          "data": {
            "values": "h,v\n8,0\n20,0.8\n32,1.2\n44,1.3\n56,1.5\n68,2.5\n80,4.5\n92,8.5\n104,10.5\n116,15\n128,17\n140,19\n152,20\n164,22.5\n176,24\n188,25\n200,25.5\n212,27.5\n224,27.5\n236,31\n248,31.5\n260,32.5\n272,33.5\n284,34.5\n296,35\n308,35\n320,36\n332,37.5\n344,39.5\n356,41\n362,41.5",
            "format": {"type": "csv", "parse": {"h": "number", "v": "number"}}
          },
          "mark": {"type": "line", "strokeWidth": 3},
          "encoding": {
            "x": {"field": "h", "type": "quantitative"},
            "y": {
              "field": "v", "type": "quantitative",
              "axis": {"values": [0, 10, 20, 30, 40, 50, 60, 70, 80, 90, 100, 110], "orient": "right", "grid": false, "domain": false, "ticks": false, "labelPadding": 25, "labelAlign": "center", "title": null}
            },
            "color": {
              "datum": "Middelste (P50)", "type": "nominal",
              "scale": {"domain": ["Verstoorde runs", "Controle", "Hoge resolutie", "Middelste (P50)"], "range": ["#a6d3a6", "#cccccc", "#cccccc", "#922b21"]},
              "legend": {"orient": "none", "legendX": 176, "legendY": 296, "direction": "horizontal", "columns": 4, "title": null, "symbolType": "stroke", "symbolSize": 225, "symbolStrokeWidth": 2, "labelFont": "Liberation Sans", "labelFontSize": 11, "labelFontWeight": "bold", "labelColor": {"expr": "indexof(['Controle','Hoge resolutie'], datum.label) >= 0 ? '#cccccc' : '#333333'"}, "labelOffset": 5, "columnPadding": 20}
            },
            "strokeDash": {
              "datum": "Middelste (P50)", "type": "nominal",
              "scale": {"domain": ["Verstoorde runs", "Controle", "Hoge resolutie", "Middelste (P50)"], "range": [[1, 0], [4, 3], [1, 0], [6, 3]]},
              "legend": {"orient": "none", "legendX": 176, "legendY": 296, "direction": "horizontal", "columns": 4, "title": null, "symbolType": "stroke", "symbolSize": 225, "symbolStrokeWidth": 2, "labelFont": "Liberation Sans", "labelFontSize": 11, "labelFontWeight": "bold", "labelColor": {"expr": "indexof(['Controle','Hoge resolutie'], datum.label) >= 0 ? '#cccccc' : '#333333'"}, "labelOffset": 5, "columnPadding": 20}
            }
          }
        }
      ],
      "resolve": {"axis": {"y": "independent"}}
    }
  ]
}
